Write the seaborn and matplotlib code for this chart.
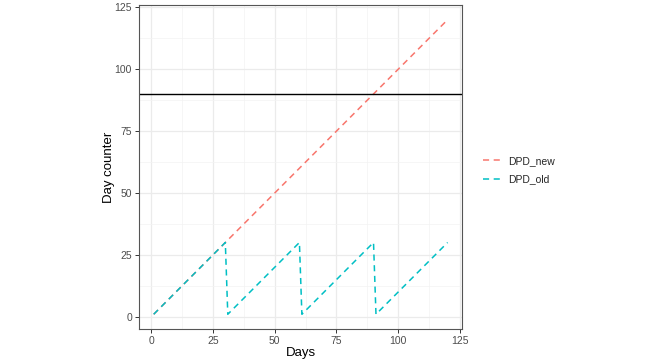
import matplotlib
matplotlib.use("Agg")
import matplotlib.pyplot as plt
import seaborn as sns
import pandas as pd

# Data (breakpoints of piecewise-linear series)
days_new = [1, 120]
dpd_new = [1, 120]
days_old = [1, 30, 31, 60, 61, 90, 91, 120]
dpd_old = [1, 30, 1, 30, 1, 30, 1, 30]
threshold = 90
series_names = ["DPD_new", "DPD_old"]
x_ticks = [0, 25, 50, 75, 100, 125]
y_ticks = [0, 25, 50, 75, 100, 125]

df = pd.concat([
    pd.DataFrame({"Days": days_new, "Day counter": dpd_new, "variable": series_names[0]}),
    pd.DataFrame({"Days": days_old, "Day counter": dpd_old, "variable": series_names[1]}),
], ignore_index=True)

sns.set_theme(style="white")
plt.rcParams["font.family"] = ["Liberation Sans", "DejaVu Sans"]

fig = plt.figure(figsize=(6.5, 3.63), dpi=100)
ax = fig.add_axes([139/650, 1-329/363, (462.3-139)/650, (329-5)/363])

palette = {"DPD_new": "#F8766D", "DPD_old": "#00BFC4"}
sns.lineplot(data=df, x="Days", y="Day counter", hue="variable", palette=palette,
             hue_order=series_names, ax=ax, linewidth=1.1, sort=False)
for line in ax.get_lines():
    line.set_dashes([4, 3])

ax.axhline(threshold, color="black", linewidth=1.0)

lo, hi = -4.95, 125.95
ax.set_xlim(lo, hi)
ax.set_ylim(lo, hi)
ax.set_xticks(x_ticks)
ax.set_yticks(y_ticks)
ax.set_xticks([12.5, 37.5, 62.5, 87.5, 112.5], minor=True)
ax.set_yticks([12.5, 37.5, 62.5, 87.5, 112.5], minor=True)
ax.grid(True, which="major", color="#EBEBEB", linewidth=0.9)
ax.grid(True, which="minor", color="#F3F3F3", linewidth=0.5)
ax.set_axisbelow(True)
for s in ax.spines.values():
    s.set_color("#555555")
    s.set_linewidth(0.8)
ax.tick_params(axis="both", which="major", length=3, width=0.7, color="#333333",
               labelsize=7.5, labelcolor="#4D4D4D", pad=2, bottom=True, left=True)
ax.tick_params(axis="both", which="minor", length=0)
ax.set_xlabel("Days", fontsize=9.5, color="black", labelpad=1)
ax.set_ylabel("Day counter", fontsize=9.5, color="black", labelpad=0)

handles, labels = ax.get_legend_handles_labels()
ax.legend(handles=handles, labels=labels, loc="center left",
          bbox_to_anchor=(474/650, 1-170/363), bbox_transform=fig.transFigure,
          frameon=False, fontsize=7.5, handlelength=1.6, handletextpad=0.8,
          labelspacing=0.8, title=None)

fig.savefig("out.png", dpi=100)
